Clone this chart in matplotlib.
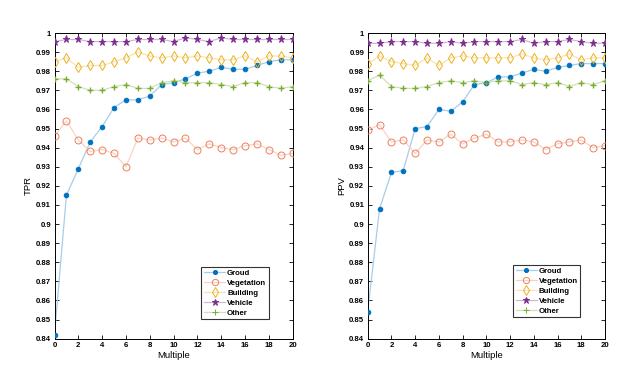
import numpy as np
import matplotlib
matplotlib.use('Agg')
import matplotlib.pyplot as plt
from matplotlib.ticker import FuncFormatter

plt.rcParams['font.family'] = ['Liberation Sans', 'DejaVu Sans']

# x axis
multiple = list(range(21))

# TPR (left panel)
tpr_ground = [0.842, 0.915, 0.929, 0.943, 0.951, 0.961, 0.965, 0.965, 0.967, 0.973, 0.974,
              0.976, 0.979, 0.980, 0.982, 0.981, 0.981, 0.983, 0.985, 0.986, 0.986]
tpr_vegetation = [0.946, 0.954, 0.944, 0.938, 0.939, 0.937, 0.930, 0.945, 0.944, 0.945, 0.943,
                  0.945, 0.939, 0.942, 0.940, 0.939, 0.941, 0.942, 0.939, 0.936, 0.937]
tpr_building = [0.985, 0.987, 0.982, 0.983, 0.983, 0.985, 0.987, 0.990, 0.988, 0.987, 0.988,
                0.987, 0.988, 0.987, 0.986, 0.986, 0.988, 0.985, 0.988, 0.988, 0.987]
tpr_vehicle = [0.9955, 0.9966, 0.9966, 0.9955, 0.9955, 0.9955, 0.9955, 0.9966, 0.9966, 0.9966, 0.9955,
               0.9975, 0.9966, 0.9955, 0.9975, 0.9966, 0.9966, 0.9966, 0.9966, 0.9966, 0.9966]
tpr_other = [0.976, 0.976, 0.972, 0.970, 0.970, 0.972, 0.973, 0.971, 0.971, 0.974, 0.975,
             0.974, 0.974, 0.974, 0.973, 0.972, 0.974, 0.974, 0.972, 0.971, 0.972]

# PPV (right panel)
ppv_ground = [0.854, 0.908, 0.927, 0.928, 0.950, 0.951, 0.960, 0.959, 0.964, 0.973, 0.974,
              0.977, 0.977, 0.979, 0.981, 0.980, 0.982, 0.983, 0.984, 0.984, 0.984]
ppv_vegetation = [0.949, 0.952, 0.943, 0.944, 0.937, 0.944, 0.943, 0.947, 0.942, 0.945, 0.947,
                  0.943, 0.943, 0.944, 0.943, 0.939, 0.942, 0.943, 0.944, 0.940, 0.941]
ppv_building = [0.984, 0.988, 0.985, 0.984, 0.983, 0.987, 0.983, 0.987, 0.988, 0.987, 0.987,
                0.987, 0.987, 0.989, 0.987, 0.986, 0.987, 0.989, 0.986, 0.987, 0.987]
ppv_vehicle = [0.9946, 0.9946, 0.9955, 0.9955, 0.9955, 0.9946, 0.9946, 0.9955, 0.9946, 0.9955, 0.9955,
               0.9955, 0.9955, 0.9966, 0.9946, 0.9955, 0.9955, 0.9966, 0.9955, 0.9946, 0.9946]
ppv_other = [0.975, 0.978, 0.972, 0.971, 0.971, 0.972, 0.974, 0.975, 0.974, 0.975, 0.974,
             0.975, 0.975, 0.973, 0.974, 0.973, 0.974, 0.972, 0.974, 0.973, 0.975]

labels = ['Groud', 'Vegetation', 'Building', 'Vehicle', 'Other']
colors = [(0, 0.447, 0.741), (0.93, 0.50, 0.36), (0.929, 0.694, 0.125),
          (0.494, 0.184, 0.556), (0.466, 0.674, 0.188)]
markers = ['o', 'o', 'd', '*', '+']
filled = [True, False, False, True, True]
msizes = [3.3, 5, 5.5, 5.2, 5]


def light(c, a=0.35):
    return tuple(1 - a * (1 - v) for v in c)


fig = plt.figure(figsize=(6.39, 3.70), dpi=100)
ax1 = fig.add_axes([0.0853, 0.0846, 0.3727, 0.8262])
ax2 = fig.add_axes([0.5754, 0.0846, 0.3714, 0.8262])

panels = [
    (ax1, [tpr_ground, tpr_vegetation, tpr_building, tpr_vehicle, tpr_other], 'TPR', (0.617, 0.063)),
    (ax2, [ppv_ground, ppv_vegetation, ppv_building, ppv_vehicle, ppv_other], 'PPV', (0.612, 0.07)),
]

for ax, series, ylab, leg_pos in panels:
    for i, vals in enumerate(series):
        c = colors[i]
        ax.plot(multiple, vals, color=light(c), lw=0.9, zorder=2)
        ax.plot(multiple, vals, linestyle='none', marker=markers[i], ms=msizes[i],
                mfc=c if filled[i] else 'none', mec=c, mew=0.7 if i != 4 else 1.0, zorder=3)
    # legend proxies
    handles = []
    for i in range(5):
        c = colors[i]
        h, = ax.plot([], [], color=light(c), lw=0.9, marker=markers[i], ms=msizes[i] * 0.9,
                     mfc=c if filled[i] else 'none', mec=c, mew=0.7)
        handles.append(h)
    leg = ax.legend(handles, labels, loc='lower left', bbox_to_anchor=leg_pos,
                    prop={'size': 5.6, 'weight': 'bold'}, frameon=True, fancybox=False,
                    edgecolor='black', borderpad=0.35, labelspacing=0.32, handlelength=2.7,
                    handletextpad=0.25, borderaxespad=0)
    leg.get_frame().set_linewidth(0.8)

    ax.set_xlim(0, 20)
    ax.set_ylim(0.84, 1.0)
    ax.set_xticks(range(0, 21, 2))
    ax.set_yticks(np.round(np.arange(0.84, 1.0001, 0.01), 2))
    ax.yaxis.set_major_formatter(FuncFormatter(lambda v, p: f'{v:g}'))
    ax.tick_params(direction='in', length=3, width=0.6, labelsize=5.6, top=True, right=True, pad=2.5)
    for lbl in ax.get_xticklabels() + ax.get_yticklabels():
        lbl.set_fontweight('bold')
    for s in ax.spines.values():
        s.set_linewidth(0.7)
    ax.set_xlabel('Multiple', fontsize=6.8, labelpad=1)
    ax.set_ylabel(ylab, fontsize=6.8, labelpad=2)

fig.savefig('out.png', dpi=100)
